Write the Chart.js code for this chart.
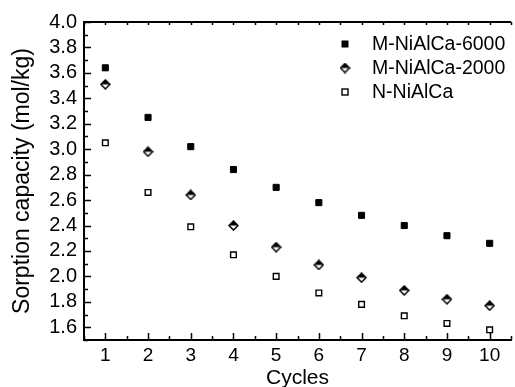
<!DOCTYPE html>
<html>
<head>
<meta charset="utf-8">
<script src="https://cdn.jsdelivr.net/npm/chart.js"></script>
<style>
    html, body { margin: 0; padding: 0; background: #fff; overflow: hidden; }
    #root { width: 517px; height: 387px; position: relative; }
</style>
</head>
<body>
<div id="root"><canvas id="chart"></canvas></div>
<script>
// values
const cycles = [1, 2, 3, 4, 5, 6, 7, 8, 9, 10];
const m6000 = [3.64, 3.25, 3.02, 2.84, 2.70, 2.58, 2.48, 2.40, 2.32, 2.26];
const m2000 = [3.51, 2.98, 2.64, 2.40, 2.23, 2.09, 1.99, 1.89, 1.82, 1.77];
const nNiAlCa = [3.05, 2.66, 2.39, 2.17, 2.00, 1.87, 1.78, 1.69, 1.63, 1.58];

const seriesNames = ['M-NiAlCa-6000', 'M-NiAlCa-2000', 'N-NiAlCa'];
const yTicks = [1.6, 1.8, 2.0, 2.2, 2.4, 2.6, 2.8, 3.0, 3.2, 3.4, 3.6, 3.8, 4.0];

const FONT = "'Liberation Sans', Arial, sans-serif";

// half-filled diamond marker
const _diamond = () => {
    const c = document.createElement('canvas');
    c.width = 11;
    c.height = 11;
    const g = c.getContext('2d');
    const path = () => {
        g.beginPath();
        g.moveTo(5.5, 1);
        g.lineTo(10, 5.5);
        g.lineTo(5.5, 10);
        g.lineTo(1, 5.5);
        g.closePath();
    };
    path();
    g.fillStyle = '#fff';
    g.fill();
    g.beginPath();
    g.moveTo(5.5, 1);
    g.lineTo(10, 5.5);
    g.lineTo(1, 5.5);
    g.closePath();
    g.fillStyle = '#000';
    g.fill();
    path();
    g.lineWidth = 1.5;
    g.strokeStyle = '#000';
    g.stroke();
    return c;
};

const _points = (ys) => cycles.map((x, i) => ({ x: x, y: ys[i] }));

// inward ticks + top frame line
const frameTicks = {
    id: 'frameTicks',
    afterDraw(chart) {
        const { ctx, chartArea } = chart;
        const x = chart.scales.x;
        const y = chart.scales.y;
        ctx.save();
        ctx.strokeStyle = '#000';
        ctx.lineWidth = 1.5;
        ctx.beginPath();
        for (let v = x.min; v <= x.max + 1e-9; v += 0.5) {
            const px = Math.round(x.getPixelForValue(v)) + 0.5;
            const major = Math.abs(v - Math.round(v)) < 1e-9;
            ctx.moveTo(px, chartArea.bottom);
            ctx.lineTo(px, chartArea.bottom - (major ? 7 : 4));
            ctx.moveTo(px, chartArea.top);
            ctx.lineTo(px, chartArea.top + 3);
        }
        for (let v = 1.5; v <= y.max + 1e-9; v += 0.1) {
            const py = Math.round(y.getPixelForValue(v)) + 0.5;
            const major = Math.abs(v * 5 - Math.round(v * 5)) < 1e-6;
            ctx.moveTo(chartArea.left, py);
            ctx.lineTo(chartArea.left + (major ? 7 : 4), py);
        }
        ctx.stroke();
        ctx.lineWidth = 2;
        ctx.beginPath();
        ctx.moveTo(chartArea.left - 1, chartArea.top);
        ctx.lineTo(chartArea.right, chartArea.top);
        ctx.stroke();
        ctx.restore();
    }
};

// legend inside the plot
const insideLegend = {
    id: 'insideLegend',
    afterDraw(chart) {
        const { ctx } = chart;
        ctx.save();
        ctx.font = `19.5px ${FONT}`;
        ctx.textBaseline = 'middle';
        chart.data.datasets.forEach((ds, i) => {
            const mx = 345;
            const my = 44 + i * 24;
            if (ds.pointStyle === 'rect') {
                ctx.fillStyle = ds.backgroundColor;
                ctx.strokeStyle = '#000';
                ctx.lineWidth = ds.borderWidth;
                ctx.fillRect(mx - 3, my - 3, 6, 6);
                ctx.strokeRect(mx - 3, my - 3, 6, 6);
            } else {
                ctx.drawImage(ds.pointStyle, mx - ds.pointStyle.width / 2, my - ds.pointStyle.height / 2);
            }
            ctx.fillStyle = '#000';
            ctx.fillText(ds.label, 372, my + 1);
        });
        ctx.restore();
    }
};

const diamond = _diamond();

new Chart(document.getElementById('chart'), {
    type: 'scatter',
    data: {
        datasets: [
            {
                label: seriesNames[0],
                data: _points(m6000),
                pointStyle: 'rect',
                radius: 4.3,
                backgroundColor: '#000',
                borderColor: '#000',
                borderWidth: 1,
            },
            {
                label: seriesNames[1],
                data: _points(m2000),
                pointStyle: diamond,
                radius: 5,
                backgroundColor: '#000',
                borderColor: '#000',
            },
            {
                label: seriesNames[2],
                data: _points(nNiAlCa),
                pointStyle: 'rect',
                radius: 4,
                backgroundColor: '#fff',
                borderColor: '#000',
                borderWidth: 1.4,
            }
        ]
    },
    options: {
        responsive: true,
        maintainAspectRatio: false,
        animation: false,
        layout: {
            padding: { top: 22, right: 0, left: 0, bottom: 0 }
        },
        plugins: {
            legend: { display: false },
            tooltip: { enabled: false },
        },
        scales: {
            x: {
                type: 'linear',
                min: 0.5,
                max: 10.5,
                afterBuildTicks: (scale) => {
                    scale.ticks = cycles.map(v => ({ value: v }));
                },
                afterFit: (scale) => { scale.height = 47; },
                grid: { display: false, drawTicks: false },
                border: { display: true, color: '#000', width: 2 },
                ticks: {
                    color: '#000',
                    padding: 4,
                    maxRotation: 0,
                    autoSkip: false,
                    font: { family: FONT, size: 19 },
                },
                title: {
                    display: true,
                    text: 'Cycles',
                    color: '#000',
                    font: { family: FONT, size: 21, lineHeight: 1 },
                    padding: { top: 0, bottom: -2 },
                }
            },
            y: {
                min: 1.5,
                max: 4.0,
                afterBuildTicks: (scale) => {
                    scale.ticks = yTicks.map(v => ({ value: v }));
                },
                afterFit: (scale) => { scale.width = 84; },
                grid: { display: false, drawTicks: false },
                border: { display: true, color: '#000', width: 2 },
                ticks: {
                    color: '#000',
                    padding: 7,
                    autoSkip: false,
                    font: { family: FONT, size: 20 },
                    callback: (v) => v.toFixed(1),
                },
                title: {
                    display: true,
                    text: 'Sorption capacity (mol/kg)',
                    color: '#000',
                    font: { family: FONT, size: 23, lineHeight: 1 },
                    padding: { top: 11, bottom: 0 },
                }
            }
        }
    },
    plugins: [frameTicks, insideLegend]
});
</script>
</body>
</html>
